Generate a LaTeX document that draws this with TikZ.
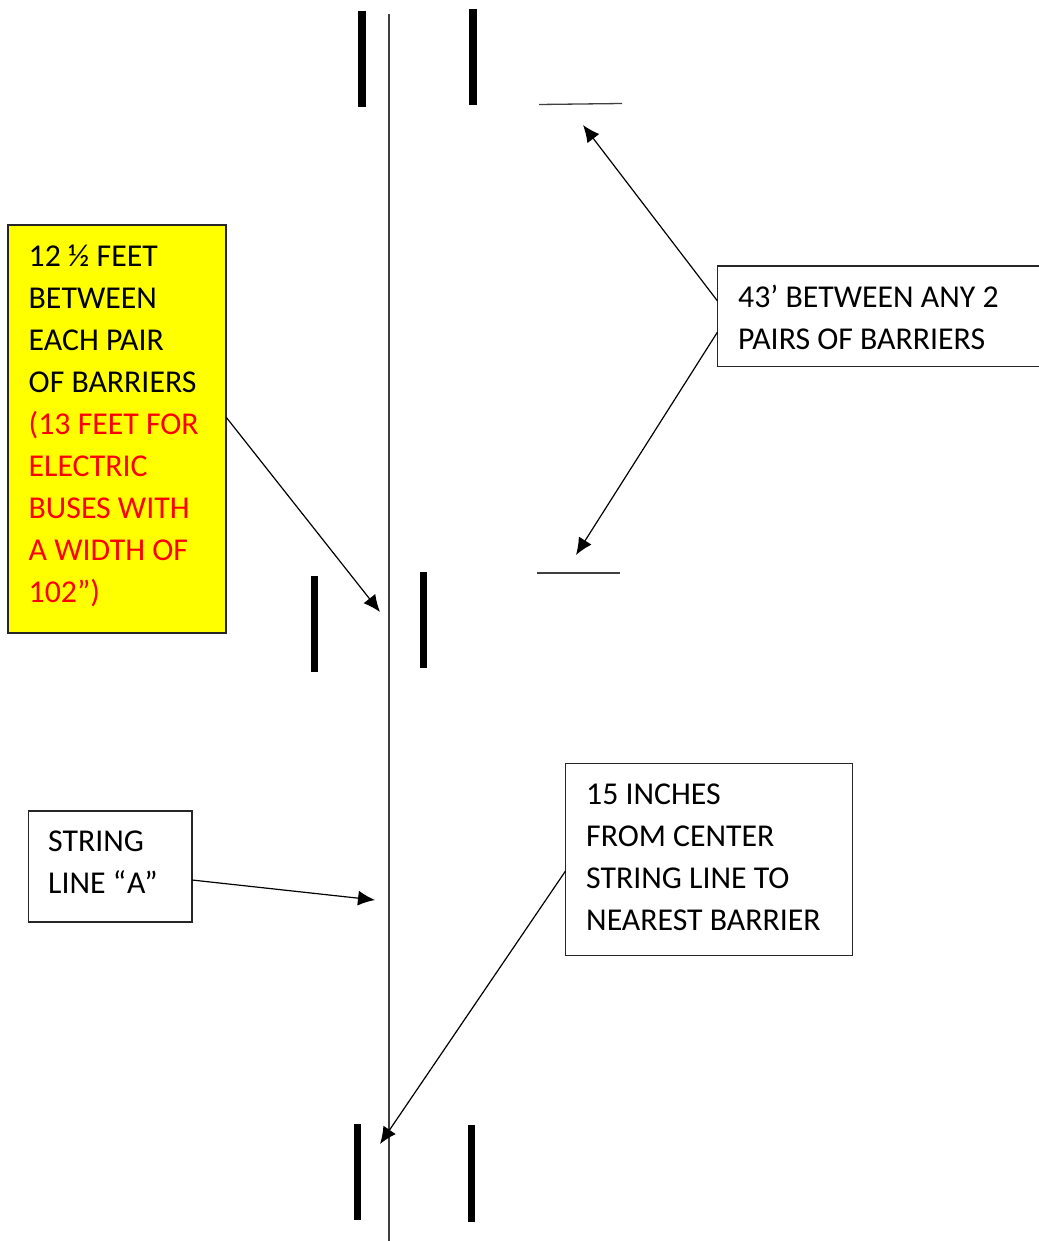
\documentclass[tikz,border=0pt]{standalone}
\usepackage{fontspec}
\setmainfont{Carlito}
\usetikzlibrary{arrows.meta}
\definecolor{noteyellow}{RGB}{255,255,0}
\tikzset{
  x=1pt,y=-1pt,
  barrier/.style={line width=7.6pt,black},
  thin line/.style={line width=1.3pt,black!75},
  arrowline/.style={line width=1.2pt,black,-{Latex[length=17pt,width=15pt]}},
  box/.style={draw=black!85,line width=1.2pt,rectangle},
  label/.style={anchor=north west,inner sep=0pt,align=left,font=\fontsize{31.8}{42}\selectfont},
}
\begin{document}
\begin{tikzpicture}
\useasboundingbox (0,0) rectangle (1038,1241);
% string line
\coordinate (lineTop) at (389,14);
\coordinate (lineBot) at (389,1241);
\draw[thin line] (lineTop) -- (lineBot);
% barriers
\draw[barrier] (362,11) -- (362,107);
\draw[barrier] (473,9) -- (473,105);
\draw[barrier] (314.3,575.5) -- (314.3,672);
\draw[barrier] (423.6,572) -- (423.6,668);
\draw[barrier] (357.5,1124) -- (357.5,1220);
\draw[barrier] (471.5,1125) -- (471.5,1222);
% short marks
\coordinate (m1a) at (539,104.5); \coordinate (m1b) at (622,103.5);
\coordinate (m2a) at (537,573); \coordinate (m2b) at (620,573);
\draw[thin line] (m1a) -- (m1b);
\draw[thin line] (m2a) -- (m2b);
% boxes
\path[box,fill=noteyellow] (8,225) rectangle (226,633);
\coordinate (yellowR) at (226,417);
\node[label] (yellow) at (28.5,245) {12 ½ FEET\\BETWEEN\\EACH PAIR\\OF BARRIERS\\\textcolor{red}{(13 FEET FOR}\\\textcolor{red}{ELECTRIC}\\\textcolor{red}{BUSES WITH}\\\textcolor{red}{A WIDTH OF}\\\textcolor{red}{102”)}};
\path[box,fill=white] (717.5,266) rectangle (1050,366.5);
\node[label] (dist) at (738,285) {43’ BETWEEN ANY 2\\PAIRS OF BARRIERS};
\path[box,fill=white] (28.5,811) rectangle (192,922);
\node[label] (string) at (48,830.5) {STRING\\LINE “\kern1pt A”};
\path[box,fill=white] (565.5,763.5) rectangle (852.5,955.5);
\node[label] (inch) at (586,784) {15 INCHES\\FROM CENTER\\STRING LINE TO\\NEAREST BARRIER};
% arrows
\coordinate (a1s) at (717.5,301); \coordinate (a1e) at (583,125);
\coordinate (a2s) at (717.5,332); \coordinate (a2e) at (576,555);
\coordinate (a3e) at (380,612);
\coordinate (a4s) at (192,880); \coordinate (a4e) at (375,900);
\coordinate (a5s) at (565.5,871); \coordinate (a5e) at (380,1144);
\draw[arrowline] (a1s) -- (a1e);
\draw[arrowline] (a2s) -- (a2e);
\draw[arrowline] (yellowR) -- (a3e);
\draw[arrowline] (a4s) -- (a4e);
\draw[arrowline] (a5s) -- (a5e);
\end{tikzpicture}
\end{document}
